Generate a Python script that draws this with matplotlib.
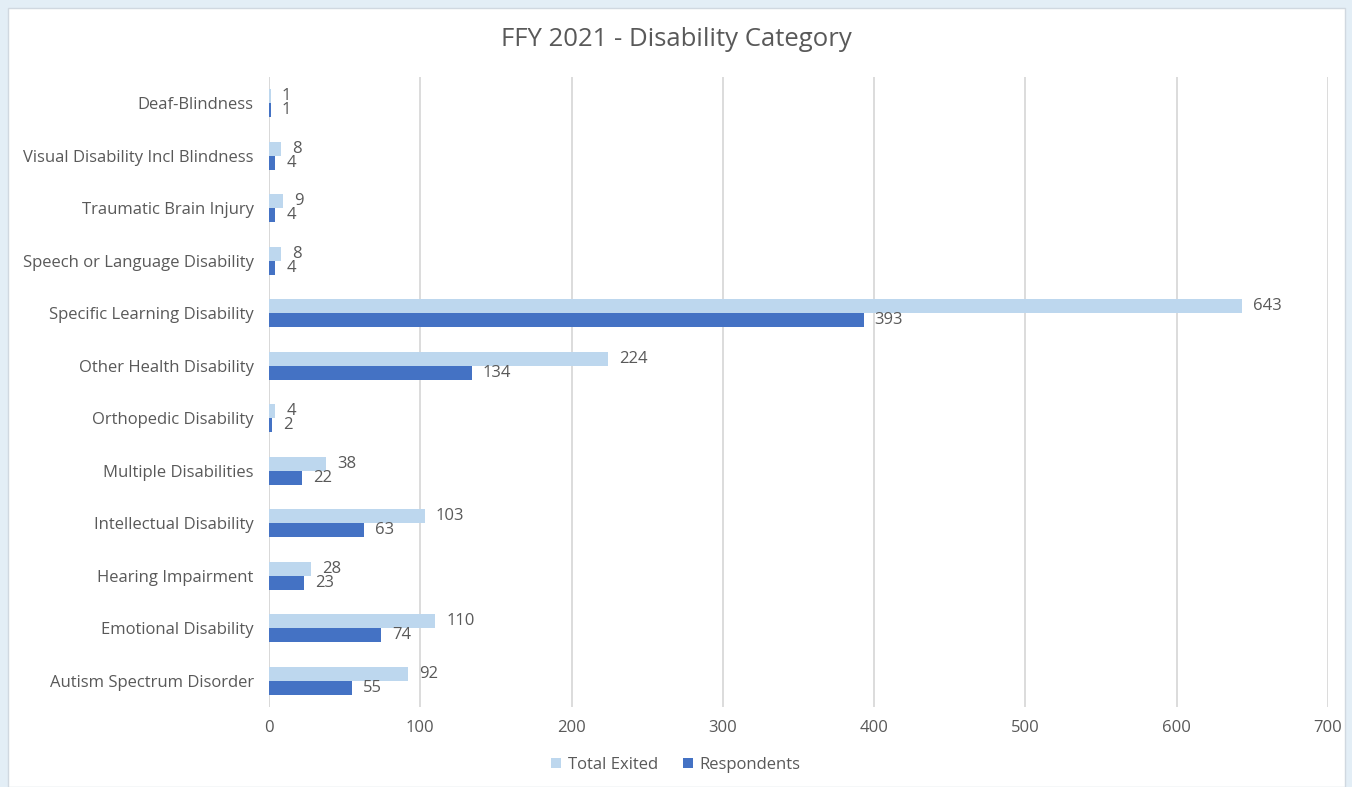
import numpy as np
import matplotlib.pyplot as plt
from matplotlib.patches import Rectangle

# categories top to bottom as shown
categories = ["Deaf-Blindness", "Visual Disability Incl Blindness", "Traumatic Brain Injury",
              "Speech or Language Disability", "Specific Learning Disability",
              "Other Health Disability", "Orthopedic Disability", "Multiple Disabilities",
              "Intellectual Disability", "Hearing Impairment", "Emotional Disability",
              "Autism Spectrum Disorder"]
total_exited = [1, 8, 9, 8, 643, 224, 4, 38, 103, 28, 110, 92]
respondents = [1, 4, 4, 4, 393, 134, 2, 22, 63, 23, 74, 55]
xticks = [0, 100, 200, 300, 400, 500, 600, 700]

plt.rcParams['font.family'] = ['Open Sans', 'DejaVu Sans']
text_col = "#595959"
fs = 12

fig = plt.figure(figsize=(13.52, 7.87), dpi=100)
fig.patch.set_facecolor("#e3eef6")
fig.patches.append(Rectangle((8 / 1352, 0), 1337 / 1352, 779 / 787, transform=fig.transFigure,
                             facecolor="white", edgecolor="#d0d8e0", lw=1, zorder=-5))

ax = fig.add_axes([269 / 1352, 80 / 787, 1059 / 1352, 630 / 787])
ax.set_zorder(2)
ax.set_facecolor("none")

y = np.arange(len(categories))
h = 0.27
b1 = ax.barh(y - h / 2, total_exited, height=h, color="#bdd7ee", label="Total Exited", zorder=2)
b2 = ax.barh(y + h / 2, respondents, height=h, color="#4472c4", label="Respondents", zorder=2)
ax.bar_label(b1, padding=8, fontsize=fs, color=text_col)
ax.bar_label(b2, padding=8, fontsize=fs, color=text_col)

ax.set_ylim(len(categories) - 0.5, -0.5)
ax.set_xlim(0, 700)
ax.set_yticks(y)
ax.set_yticklabels(categories, fontsize=fs, color=text_col)
ax.set_xticks(xticks)
ax.tick_params(axis="x", labelsize=fs, colors=text_col, length=0, pad=9)
ax.tick_params(axis="y", length=0, pad=11)
ax.grid(axis="x", color="#d9d9d9", lw=1.3, zorder=0)
for s in ax.spines.values():
    s.set_visible(False)
ax.axvline(0, color="#d9d9d9", lw=1.3, zorder=1)

fig.text(0.5, 1 - 40 / 787, "FFY 2021 - Disability Category", ha="center", va="center",
         fontsize=18.5, color=text_col)
fig.legend(handles=[b1, b2], loc="center", bbox_to_anchor=(0.5, 1 - 765 / 787), ncol=2,
           frameon=False, fontsize=fs, labelcolor=text_col, handlelength=0.6,
           handleheight=0.6, columnspacing=1.5, handletextpad=0.4)

fig.savefig("out.png", dpi=100, facecolor=fig.get_facecolor())
